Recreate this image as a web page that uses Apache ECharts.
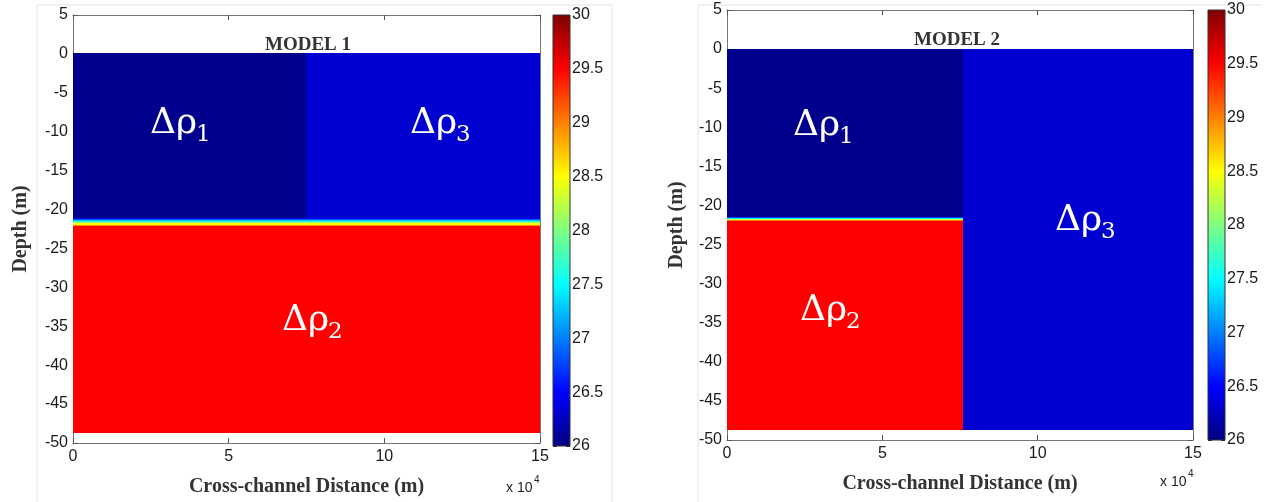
<!DOCTYPE html>
<html>
<head>
<meta charset="utf-8">
<script src="https://cdn.jsdelivr.net/npm/echarts@6/dist/echarts.min.js"></script>
<style>
  html, body { margin: 0; padding: 0; background: #fff; }
  #chart { width: 1266px; height: 502px; }
</style>
</head>
<body>
<div id="chart"></div>
<script>
// model 1: two columns split at m1Split, each with a density profile over depth
const xMax = 15;
const m1Split = 7.5;
const m1Depths = [0, -21.1, -21.25, -21.4, -21.55, -21.7, -21.85, -22.0, -22.15, -48.6];
const m1RhoLeft = [26.05, 26.45, 26.85, 27.25, 27.65, 28.05, 28.5, 28.95, 29.5];
const m1RhoRight = [26.32, 26.45, 26.85, 27.25, 27.65, 28.05, 28.5, 28.95, 29.5];

// model 2: left column layered, right column uniform
const m2Split = 7.6;
const m2DepthsLeft = [0, -21.5, -21.65, -21.8, -21.95, -22.1, -48.6];
const m2RhoLeft = [26.05, 26.7, 27.5, 28.3, 29.0, 29.5];
const m2DepthsRight = [0, -48.6];
const m2RhoRight = [26.32];

const rhoRange = [26, 30];
const jet = ['#00007f', '#0000ff', '#007fff', '#00ffff', '#7fff7f',
             '#ffff00', '#ff7f00', '#ff0000', '#7f0000'];

function cells(x0, x1, depths, rho) {
  var out = [];
  for (var i = 0; i < rho.length; i++) {
    out.push([x0, x1, depths[i], depths[i + 1], rho[i]]);
  }
  return out;
}
var model1 = cells(0, m1Split, m1Depths, m1RhoLeft)
  .concat(cells(m1Split, xMax, m1Depths, m1RhoRight));
var model2 = cells(0, m2Split, m2DepthsLeft, m2RhoLeft)
  .concat(cells(m2Split, xMax, m2DepthsRight, m2RhoRight));

function renderCell(params, api) {
  var p0 = api.coord([api.value(0), api.value(2)]);
  var p1 = api.coord([api.value(1), api.value(3)]);
  return {
    type: 'rect',
    shape: {
      x: Math.floor(p0[0]), y: Math.floor(p0[1]),
      width: Math.ceil(p1[0] - p0[0]) + 1, height: Math.ceil(p1[1] - p0[1]) + 1
    },
    style: { fill: api.visual('color') }
  };
}
function renderBar(params, api) {
  var p0 = api.coord([0, rhoRange[1]]);
  var p1 = api.coord([1, rhoRange[0]]);
  var stops = jet.map(function (c, i) { return { offset: i / (jet.length - 1), color: c }; });
  return {
    type: 'rect',
    shape: { x: p0[0], y: p0[1], width: p1[0] - p0[0], height: p1[1] - p0[1] },
    style: { fill: new echarts.graphic.LinearGradient(0, 1, 0, 0, stops), stroke: '#333', lineWidth: 1 }
  };
}

var tickFont = { color: '#1a1a1a', fontSize: 16, fontFamily: 'Liberation Sans' };
var nameFont = { color: '#333', fontSize: 20, fontWeight: 'bold', fontFamily: 'Liberation Serif' };
var boxLine = { show: true, onZero: false, lineStyle: { color: '#777', width: 1 } };
var tick = { show: true, inside: true, length: 5, lineStyle: { color: '#555' } };

function plotX(grid, name, gap) {
  return [
    { gridIndex: grid, type: 'value', min: 0, max: xMax, interval: 5, position: 'bottom',
      name: name, nameLocation: 'middle', nameGap: gap, nameTextStyle: nameFont,
      axisLine: boxLine, axisTick: tick, splitLine: { show: false },
      axisLabel: Object.assign({ margin: 6 }, tickFont) },
    { gridIndex: grid, type: 'value', min: 0, max: xMax, interval: 5, position: 'top',
      axisLine: boxLine, axisTick: tick, splitLine: { show: false }, axisLabel: { show: false } }
  ];
}
function plotY(grid, gap) {
  return [
    { gridIndex: grid, type: 'value', min: -50, max: 5, interval: 5, position: 'left',
      name: 'Depth (m)', nameLocation: 'middle', nameGap: gap, nameRotate: 90, nameTextStyle: nameFont,
      axisLine: boxLine, axisTick: tick, splitLine: { show: false },
      axisLabel: Object.assign({ margin: 5 }, tickFont) },
    { gridIndex: grid, type: 'value', min: -50, max: 5, interval: 5, position: 'right',
      axisLine: boxLine, axisTick: tick, splitLine: { show: false }, axisLabel: { show: false } }
  ];
}
function barX(grid) {
  return { gridIndex: grid, type: 'value', min: 0, max: 1, show: false };
}
function barY(grid) {
  var t = { show: true, inside: true, length: 4, lineStyle: { color: '#222' } };
  return [
    { gridIndex: grid, type: 'value', min: rhoRange[0], max: rhoRange[1], interval: 0.5, position: 'right',
      axisLine: { show: false, onZero: false }, axisTick: t, splitLine: { show: false },
      axisLabel: Object.assign({ margin: 2 }, tickFont) },
    { gridIndex: grid, type: 'value', min: rhoRange[0], max: rhoRange[1], interval: 0.5, position: 'left',
      axisLine: { show: false, onZero: false }, axisTick: t, splitLine: { show: false }, axisLabel: { show: false } }
  ];
}

function rhoLabel(x, y, sub) {
  return [
    { type: 'text', z: 100, left: x, top: y, style: { text: 'Δρ', fill: '#fff', fontSize: 36, fontFamily: 'DejaVu Serif' } },
    { type: 'text', z: 100, left: x + 46, top: y + 18, style: { text: sub, fill: '#fff', fontSize: 23, fontFamily: 'DejaVu Serif' } }
  ];
}
function expLabel(x, y) {
  return [
    { type: 'text', z: 100, left: x, top: y, style: { text: 'x 10', fill: '#222', fontSize: 14, fontFamily: 'Liberation Sans' } },
    { type: 'text', z: 100, left: x + 28, top: y - 6, style: { text: '4', fill: '#222', fontSize: 10, fontFamily: 'Liberation Sans' } }
  ];
}
function title(cx, cy, text) {
  return { type: 'text', z: 100, x: cx, y: cy,
    style: { text: text, fill: '#333', fontSize: 19, fontWeight: 'bold', fontFamily: 'Liberation Serif',
             align: 'center', verticalAlign: 'middle' } };
}
function frame(points) {
  return { type: 'polyline', z: 0, shape: { points: points }, style: { stroke: '#e4e4e4', lineWidth: 1, fill: null } };
}

var chart = echarts.init(document.getElementById('chart'));
chart.setOption({
  backgroundColor: '#fff',
  animation: false,
  grid: [
    { left: 73, top: 15, width: 467, height: 431 },
    { left: 553, top: 15, width: 17, height: 431 },
    { left: 727, top: 10, width: 466, height: 430 },
    { left: 1208, top: 10, width: 17, height: 430 }
  ],
  xAxis: [].concat(plotX(0, 'Cross-channel Distance (m)', 34), barX(1),
                   plotX(2, 'Cross-channel Distance (m)', 34), barX(3)),
  yAxis: [].concat(plotY(0, 42), barY(1), plotY(2, 40), barY(3)),
  visualMap: {
    type: 'continuous', show: false, min: rhoRange[0], max: rhoRange[1],
    dimension: 4, seriesIndex: [0, 1], inRange: { color: jet }
  },
  series: [
    { type: 'custom', xAxisIndex: 0, yAxisIndex: 0, data: model1, renderItem: renderCell, clip: true,
      encode: { x: [0, 1], y: [2, 3] } },
    { type: 'custom', xAxisIndex: 3, yAxisIndex: 4, data: model2, renderItem: renderCell, clip: true,
      encode: { x: [0, 1], y: [2, 3] } },
    { type: 'custom', xAxisIndex: 2, yAxisIndex: 2, data: [rhoRange], renderItem: renderBar, z: 1 },
    { type: 'custom', xAxisIndex: 5, yAxisIndex: 6, data: [rhoRange], renderItem: renderBar, z: 1 }
  ],
  graphic: [].concat(
    frame([[37, 502], [37, 5], [612, 5], [612, 502]]),
    frame([[698, 502], [698, 5], [1262, 5]]),
    title(308, 45, 'MODEL 1'), title(957, 40, 'MODEL 2'),
    rhoLabel(150, 106, '1'), rhoLabel(410, 106, '3'), rhoLabel(282, 303, '2'),
    rhoLabel(793, 108, '1'), rhoLabel(1055, 203, '3'), rhoLabel(800, 293, '2'),
    expLabel(506, 481), expLabel(1160, 475)
  )
});
</script>
</body>
</html>
